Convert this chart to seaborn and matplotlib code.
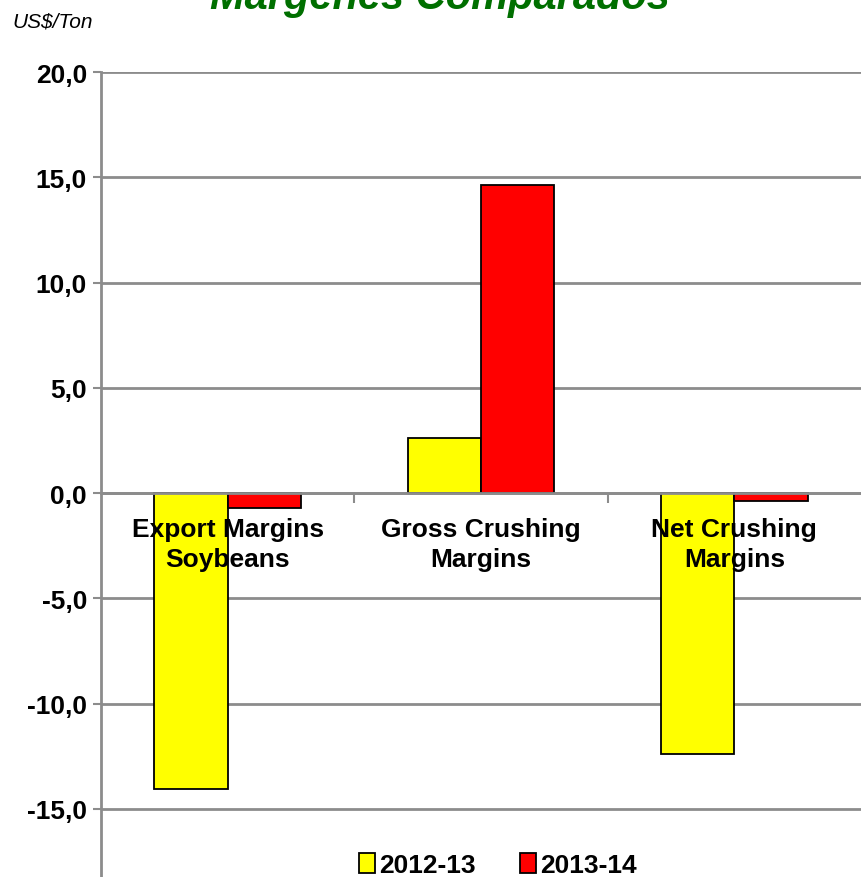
import pandas as pd
import matplotlib
matplotlib.use('Agg')
import matplotlib.pyplot as plt
import seaborn as sns

categories = ['Export Margins\nSoybeans', 'Gross Crushing\nMargins', 'Net Crushing\nMargins']
seasons = ['2012-13', '2013-14']
values_2012 = [-14.07, 2.6, -12.4]
values_2013 = [-0.7, 14.64, -0.38]
colors = ['#FFFF00', '#FF0000']
y_ticks = [-15, -10, -5, 0, 5, 10, 15, 20]
y_tick_labels = ['-15,0', '-10,0', '-5,0', '0,0', '5,0', '10,0', '15,0', '20,0']

df = pd.DataFrame({
    'Categoria': categories * 2,
    'Safra': [seasons[0]] * 3 + [seasons[1]] * 3,
    'Valor': values_2012 + values_2013,
})

sns.set_style('white')
plt.rcParams['font.family'] = ['Liberation Sans', 'DejaVu Sans']
plt.rcParams['text.color'] = 'black'
plt.rcParams['ytick.labelcolor'] = 'black'
grid_color = '#8C8C8C'

fig = plt.figure(figsize=(8.61, 8.78), dpi=100)
ax = fig.add_axes([101 / 861, 0.0, 1 - 101 / 861, 1 - 73 / 878])

sns.barplot(data=df, x='Categoria', y='Valor', hue='Safra', hue_order=seasons,
            palette=dict(zip(seasons, colors)), width=0.58, gap=0,
            edgecolor='black', linewidth=1.3, saturation=1, ax=ax, zorder=3)

ax.set_ylim(-18.23, 20)
ax.set_xlim(-0.5, 2.5)
ax.set_yticks(y_ticks)
ax.set_yticklabels(y_tick_labels, fontsize=19, fontweight='bold', color='black')
ax.yaxis.grid(True, color=grid_color, linewidth=2, zorder=0)
ax.set_axisbelow(True)
ax.tick_params(axis='y', length=6, width=1.5, color=grid_color, pad=4, left=True)

# eixo x em zero, com marcas entre as categorias
ax.spines['bottom'].set_position(('data', 0))
ax.spines['bottom'].set_color(grid_color)
ax.spines['bottom'].set_linewidth(2)
ax.spines['bottom'].set_zorder(4)
ax.set_xticks([0.5, 1.5])
ax.set_xticklabels([])
ax.tick_params(axis='x', length=7, width=1.5, color=grid_color, bottom=True, direction='out')
for side in ['top', 'right']:
    ax.spines[side].set_visible(False)
ax.spines['left'].set_color(grid_color)
ax.spines['left'].set_linewidth(2)
ax.set_xlabel('')
ax.set_ylabel('')

for i, cat in enumerate(categories):
    ax.text(i, -2.42, cat, ha='center', va='center', fontsize=19, fontweight='bold',
            linespacing=1.3, color='black', zorder=6)

leg = ax.legend(loc='lower center', bbox_to_anchor=(0.522, -0.03), ncol=2, frameon=False,
                prop={'size': 19, 'weight': 'bold'}, handlelength=0.6, handleheight=0.8,
                handletextpad=0.15, columnspacing=1.7)
for h in leg.legend_handles:
    h.set_edgecolor('black')
    h.set_linewidth(1.3)
for t in leg.get_texts():
    t.set_color('black')

fig.text(0.511, 1 - 9 / 878, 'Margenes Comparados', ha='center', va='baseline',
         fontsize=30, fontweight='bold', fontstyle='italic', color='#006F00')
fig.text(12 / 861, 1 - 22 / 878, 'US$/Ton', ha='left', va='center', fontsize=15,
         fontstyle='italic', color='black')

fig.savefig('out.png', dpi=100)
